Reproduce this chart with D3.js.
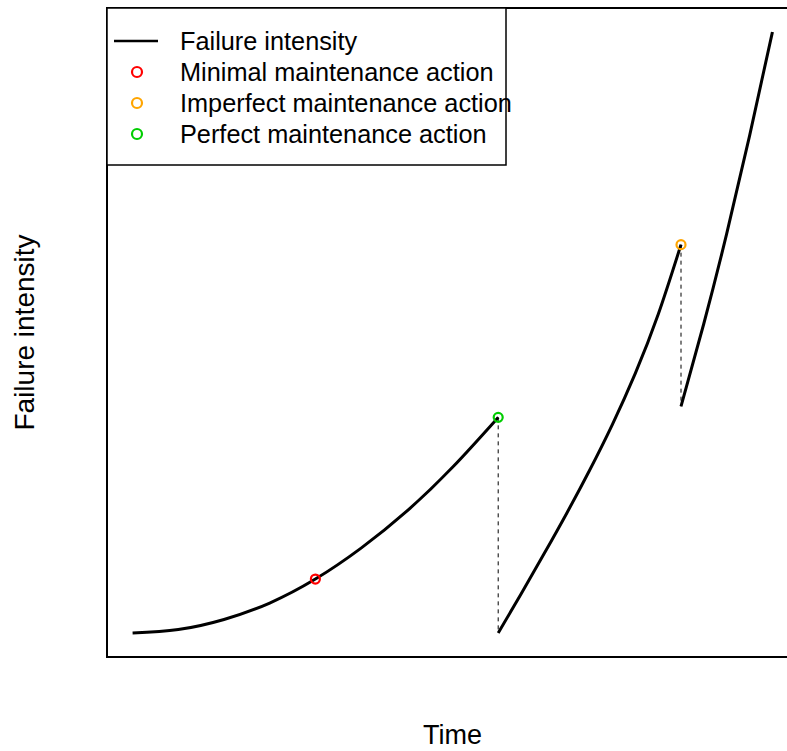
<!DOCTYPE html>
<html>
<head>
<meta charset="utf-8">
<script src="https://cdn.jsdelivr.net/npm/d3@7"></script>
<style>
  body { margin: 0; background: #fff; }
  text { font-family: "Liberation Sans", Arial, sans-serif; }
</style>
</head>
<body>
<div id="chart"></div>
<script>
// Failure intensity, one array per segment between renewals
const segment1 = [
  { t: 0.0, v: 0.00 }, { t: 0.5, v: 0.034 }, { t: 1.0, v: 0.135 }, { t: 1.5, v: 0.30 },
  { t: 2.0, v: 0.54 }, { t: 2.5, v: 0.85 }, { t: 3.0, v: 1.22 }, { t: 3.5, v: 1.66 },
  { t: 4.0, v: 2.16 }
];
const segment2 = [
  { t: 4.0, v: 0.00 }, { t: 4.25, v: 0.39 }, { t: 4.5, v: 0.79 }, { t: 4.75, v: 1.20 },
  { t: 5.0, v: 1.63 }, { t: 5.25, v: 2.09 }, { t: 5.5, v: 2.60 }, { t: 5.75, v: 3.19 },
  { t: 6.0, v: 3.89 }
];
const segment3 = [
  { t: 6.0, v: 2.27 }, { t: 6.25, v: 3.10 }, { t: 6.5, v: 4.00 }, { t: 6.75, v: 4.98 },
  { t: 7.0, v: 6.02 }
];
const segments = [segment1, segment2, segment3];

// maintenance actions: time, intensity before, intensity after
const actions = [
  { t: 2, before: 0.54, after: 0.54, type: "Minimal" },
  { t: 4, before: 2.16, after: 0.00, type: "Perfect" },
  { t: 6, before: 3.89, after: 2.27, type: "Imperfect" }
];

const legendLabels = ["Failure intensity", "Minimal maintenance action",
  "Imperfect maintenance action", "Perfect maintenance action"];
const actionColors = { Minimal: "#ff0000", Imperfect: "#ffa500", Perfect: "#00cd00" };

const width = 787;
const height = 751;
const marginTop = 8;
const marginLeft = 107;
const plotRight = 798;   // box runs past the window edge
const plotBottom = 657;

// R style 4% padding on both axes
const tMin = 0, tMax = 7, vMin = 0, vMax = 6.02;
const padT = (tMax - tMin) * 0.04, padV = (vMax - vMin) * 0.04;

const x = d3.scaleLinear()
  .domain([tMin - padT, tMax + padT])
  .range([marginLeft, plotRight]);

const y = d3.scaleLinear()
  .domain([vMin - padV, vMax + padV])
  .range([plotBottom, marginTop]);

const svg = d3.select("#chart")
  .append("svg")
  .attr("width", width)
  .attr("height", height)
  .attr("viewBox", [0, 0, width, height]);

// plot box
svg.append("rect")
  .attr("x", marginLeft)
  .attr("y", marginTop)
  .attr("width", plotRight - marginLeft)
  .attr("height", plotBottom - marginTop)
  .attr("fill", "none")
  .attr("stroke", "#000")
  .attr("stroke-width", 2);

// dashed drops at each renewal
svg.append("g")
  .selectAll("line")
  .data(actions.filter(d => d.before !== d.after))
  .join("line")
  .attr("x1", d => x(d.t))
  .attr("x2", d => x(d.t))
  .attr("y1", d => y(d.before))
  .attr("y2", d => y(d.after))
  .attr("stroke", "#000")
  .attr("stroke-width", 1)
  .attr("stroke-dasharray", "4,4");

const line = d3.line()
  .x(d => x(d.t))
  .y(d => y(d.v))
  .curve(d3.curveNatural);

svg.append("g")
  .selectAll("path")
  .data(segments)
  .join("path")
  .attr("d", line)
  .attr("fill", "none")
  .attr("stroke", "#000")
  .attr("stroke-width", 3);

svg.append("g")
  .selectAll("circle")
  .data(actions)
  .join("circle")
  .attr("cx", d => x(d.t))
  .attr("cy", d => y(d.before))
  .attr("r", 4.5)
  .attr("fill", "none")
  .attr("stroke", d => actionColors[d.type])
  .attr("stroke-width", 2.2);

// axis titles
svg.append("text")
  .attr("x", (marginLeft + plotRight) / 2)
  .attr("y", 744)
  .attr("text-anchor", "middle")
  .attr("font-size", 27)
  .text("Time");

svg.append("text")
  .attr("transform", `translate(34,${(marginTop + plotBottom) / 2}) rotate(-90)`)
  .attr("text-anchor", "middle")
  .attr("font-size", 28)
  .text("Failure intensity");

// legend
const legend = svg.append("g");
legend.append("rect")
  .attr("x", marginLeft)
  .attr("y", marginTop)
  .attr("width", 399)
  .attr("height", 157)
  .attr("fill", "#fff")
  .attr("stroke", "#000")
  .attr("stroke-width", 1.5);

const rows = legend.selectAll("g")
  .data(legendLabels)
  .join("g")
  .attr("transform", (d, i) => `translate(0,${41 + i * 31})`);

rows.filter((d, i) => i === 0)
  .append("line")
  .attr("x1", 114).attr("x2", 158)
  .attr("stroke", "#000")
  .attr("stroke-width", 2.5);

rows.filter((d, i) => i > 0)
  .append("circle")
  .attr("cx", 137)
  .attr("r", 5)
  .attr("fill", "none")
  .attr("stroke", d => actionColors[d.split(" ")[0]])
  .attr("stroke-width", 2.2);

rows.append("text")
  .attr("x", 180)
  .attr("dy", "0.35em")
  .attr("font-size", 25.3)
  .text(d => d);
</script>
</body>
</html>
